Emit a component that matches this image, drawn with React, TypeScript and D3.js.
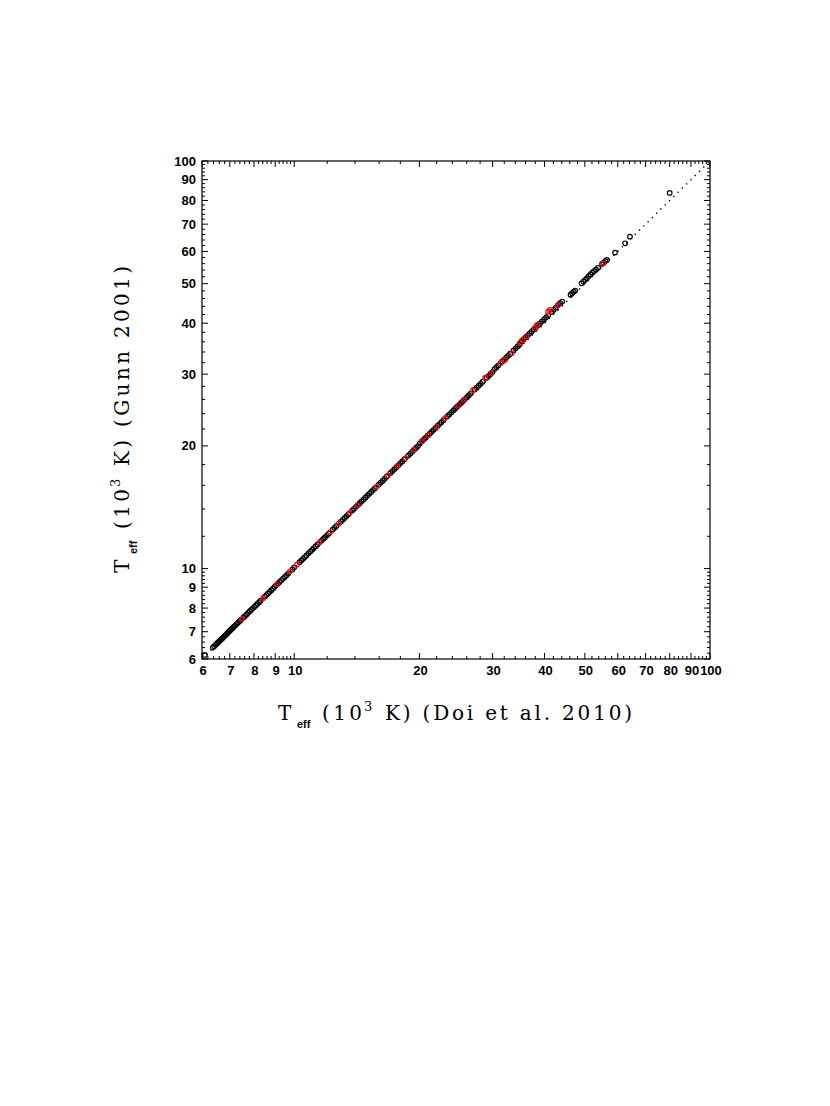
import React from "react";
import * as d3 from "d3";

// Teff (10^3 K) — Doi et al. 2010 (x) vs Gunn 2001 (y)
const doiBlack = [
  6.10, 6.37, 6.42, 6.47, 6.52, 6.57, 6.61, 6.66, 6.71, 6.75, 6.80, 6.85, 6.90, 6.95, 7.00,
  7.05, 7.10, 7.16, 7.21, 7.27, 7.33, 7.39, 7.44, 7.56, 7.62, 7.68, 7.75, 7.82, 7.88, 7.95,
  8.02, 8.09, 8.16, 8.23, 8.30, 8.50, 8.57, 8.65, 8.73, 8.81, 8.89, 8.97, 9.05, 9.14, 9.22,
  9.31, 9.40, 9.49, 9.58, 9.67, 9.90, 10.00, 10.30, 10.40, 10.50, 10.60, 10.70, 10.82, 10.93,
  11.04, 11.15, 11.27, 11.38, 11.62, 11.74, 11.86, 11.99, 12.11, 12.37, 12.50, 12.63, 12.95,
  13.08, 13.22, 13.36, 13.50, 13.78, 13.92, 14.07, 14.22, 14.37, 14.52, 14.67, 14.83, 14.99,
  15.15, 15.31, 15.47, 15.64, 15.98, 16.15, 16.32, 16.50, 16.68, 17.04, 17.23, 17.42, 17.61,
  17.80, 17.99, 18.19, 18.39, 18.80, 19.00, 19.21, 19.42, 19.63, 19.84, 20.06, 20.28, 20.50,
  20.72, 20.95, 21.18, 21.41, 21.64, 21.88, 22.12, 22.36, 22.60, 22.85, 23.35, 23.60, 23.86,
  24.12, 24.38, 24.65, 24.92, 25.19, 25.47, 25.75, 26.03, 26.31, 26.60, 27.19, 27.48, 27.78,
  28.09, 28.40, 29.03, 29.35, 29.67, 29.99, 30.32, 30.65, 30.98, 31.65, 32.00, 32.35, 32.70,
  33.06, 33.70, 34.10, 34.50, 34.85, 35.25, 35.65, 36.05, 36.45, 36.85, 37.25, 37.65, 38.10,
  38.55, 39.00, 39.45, 39.90, 40.35, 40.80, 41.60, 42.10, 42.60, 43.10, 43.60, 44.10, 46.20,
  46.60, 47.00, 47.40, 49.10, 49.60, 50.10, 50.60, 51.10, 51.60, 52.10, 52.60, 53.20, 53.80,
  55.00, 55.50, 56.00, 56.50, 59.10, 62.50, 64.20, 80.00,
];
const gunnBlack = [
  6.14, 6.40, 6.45, 6.50, 6.55, 6.60, 6.64, 6.69, 6.74, 6.78, 6.83, 6.88, 6.93, 6.99, 7.04,
  7.09, 7.14, 7.20, 7.25, 7.31, 7.37, 7.43, 7.48, 7.60, 7.66, 7.72, 7.79, 7.86, 7.92, 7.99,
  8.06, 8.13, 8.20, 8.27, 8.34, 8.54, 8.61, 8.69, 8.77, 8.85, 8.93, 9.02, 9.10, 9.19, 9.27,
  9.36, 9.45, 9.54, 9.63, 9.72, 9.95, 10.07, 10.37, 10.47, 10.57, 10.67, 10.77, 10.90, 11.01,
  11.12, 11.23, 11.35, 11.46, 11.70, 11.82, 11.94, 12.07, 12.19, 12.46, 12.59, 12.72, 13.04,
  13.17, 13.31, 13.45, 13.59, 13.88, 14.02, 14.17, 14.32, 14.47, 14.62, 14.77, 14.93, 15.09,
  15.26, 15.42, 15.58, 15.75, 16.09, 16.26, 16.43, 16.62, 16.80, 17.16, 17.35, 17.54, 17.73,
  17.92, 18.12, 18.32, 18.52, 18.93, 19.13, 19.34, 19.56, 19.77, 19.98, 20.30, 20.52, 20.75,
  20.97, 21.20, 21.43, 21.67, 21.90, 22.14, 22.39, 22.63, 22.87, 23.12, 23.63, 23.88, 24.15,
  24.41, 24.67, 24.95, 25.22, 25.49, 25.78, 26.06, 26.34, 26.63, 26.92, 27.52, 27.81, 28.11,
  28.43, 28.74, 29.38, 29.70, 30.03, 30.35, 30.87, 31.20, 31.54, 32.22, 32.58, 32.93, 33.29,
  33.66, 34.31, 34.71, 35.12, 35.48, 36.13, 36.54, 36.95, 37.36, 37.77, 38.18, 38.59, 39.05,
  39.51, 39.98, 40.44, 40.90, 41.36, 41.82, 42.64, 43.15, 43.67, 44.30, 44.80, 45.20, 47.00,
  47.40, 47.80, 48.10, 50.10, 50.60, 51.10, 51.60, 52.20, 52.70, 53.20, 53.70, 54.20, 54.70,
  55.90, 56.30, 56.80, 57.20, 59.60, 62.80, 65.20, 83.50,
];
const doiRed = [
  7.48, 8.41, 9.09, 9.77, 10.15, 11.50, 12.20, 12.80, 13.60, 14.20, 15.80, 16.80, 17.70,
  18.50, 19.40, 20.30, 21.00, 22.00, 23.05, 24.80, 25.60, 26.90, 28.80, 29.80, 31.30, 32.10,
  33.40, 34.90, 35.50, 36.20, 37.90, 38.40, 40.80, 41.20, 43.10, 55.40,
];
const gunnRed = [
  7.52, 8.46, 9.15, 9.85, 10.22, 11.58, 12.29, 12.90, 13.70, 14.30, 15.92, 16.93, 17.84,
  18.65, 19.56, 20.55, 21.25, 22.28, 23.40, 25.12, 25.94, 27.40, 29.40, 30.20, 31.90, 32.50,
  33.80, 35.80, 36.40, 37.10, 38.90, 39.60, 42.70, 43.10, 44.30, 56.10,
];

const majorTicks = [6, 7, 8, 9, 10, 20, 30, 40, 50, 60, 70, 80, 90, 100];
const tickLabels = ["6", "7", "8", "9", "10", "20", "30", "40", "50", "60", "70", "80", "90", "100"];
const minorTicks = [
  6.2, 6.4, 6.6, 6.8, 7.2, 7.4, 7.6, 7.8, 8.2, 8.4, 8.6, 8.8, 9.2, 9.4, 9.6, 9.8,
  12, 14, 16, 18, 22, 24, 26, 28, 32, 34, 36, 38, 42, 44, 46, 48, 52, 54, 56, 58,
  62, 64, 66, 68, 72, 74, 76, 78, 82, 84, 86, 88, 92, 94, 96, 98,
];
const diagonal = [6, 100];

const L = 202, R = 710, T = 161, B = 659;
const MAJ = 6, MIN = 3;

export default function App() {
  const x = d3.scaleLog().domain([6, 100]).range([L, R]);
  const y = d3.scaleLog().domain([6, 100]).range([B, T]);
  const line = d3
    .line<number>()
    .x((d) => x(d))
    .y((d) => y(d));

  const blackPts = doiBlack.map((d, i) => [d, gunnBlack[i]]);
  const redPts = doiRed.map((d, i) => [d, gunnRed[i]]);

  const labelFont = "'Liberation Sans', Arial, sans-serif";
  const serif = "'DejaVu Serif', serif";

  return (
    <svg
      width={830}
      height={1106}
      style={{ position: "absolute", left: 0, top: 0, background: "#fff" }}
    >
      <rect x={0} y={0} width={830} height={1106} fill="#fff" />
      {/* diagonal dotted line */}
      <path
        d={line(diagonal) || ""}
        fill="none"
        stroke="#000"
        strokeWidth={1.4}
        strokeDasharray="1.4 4.6"
      />
      {/* points */}
      <g fill="none" strokeWidth={1.15}>
        {blackPts.map((p, i) => (
          <circle key={"b" + i} cx={x(p[0])} cy={y(p[1])} r={2.3} stroke="#000" />
        ))}
        {redPts.map((p, i) => (
          <circle key={"r" + i} cx={x(p[0])} cy={y(p[1])} r={2.3} stroke="#ff0000" />
        ))}
      </g>
      {/* frame */}
      <rect x={L} y={T} width={R - L} height={B - T} fill="none" stroke="#000" strokeWidth={1.2} />
      {/* ticks */}
      <g stroke="#000" strokeWidth={1}>
        {majorTicks.map((t) => (
          <g key={"M" + t}>
            <line x1={x(t)} x2={x(t)} y1={B} y2={B - MAJ} />
            <line x1={x(t)} x2={x(t)} y1={T} y2={T + MAJ} />
            <line x1={L} x2={L + MAJ} y1={y(t)} y2={y(t)} />
            <line x1={R} x2={R - MAJ} y1={y(t)} y2={y(t)} />
          </g>
        ))}
        {minorTicks.map((t) => (
          <g key={"m" + t}>
            <line x1={x(t)} x2={x(t)} y1={B} y2={B - MIN} />
            <line x1={x(t)} x2={x(t)} y1={T} y2={T + MIN} />
            <line x1={L} x2={L + MIN} y1={y(t)} y2={y(t)} />
            <line x1={R} x2={R - MIN} y1={y(t)} y2={y(t)} />
          </g>
        ))}
      </g>
      {/* tick labels */}
      <g fontFamily={labelFont} fontSize={13} fontWeight="bold" fill="#000">
        {majorTicks.map((t, i) => (
          <text key={"xl" + t} x={x(t) + 1} y={675} textAnchor="middle">
            {tickLabels[i]}
          </text>
        ))}
        {majorTicks.map((t, i) => (
          <text key={"yl" + t} x={196} y={y(t) + 4.5} textAnchor="end">
            {tickLabels[i]}
          </text>
        ))}
      </g>
      {/* x title */}
      <g fill="#000">
        <text x={278} y={720} fontFamily={serif} fontSize={20}>T</text>
        <text x={297} y={728} fontFamily={labelFont} fontSize={11} fontWeight="bold">eff</text>
        <text x={322} y={720} fontFamily={serif} fontSize={20} textLength={40} lengthAdjust="spacing">(10</text>
        <text x={364} y={711} fontFamily={serif} fontSize={13}>3</text>
        <text x={385} y={720} fontFamily={serif} fontSize={20} textLength={247} lengthAdjust="spacing">
          K) (Doi et al. 2010)
        </text>
      </g>
      {/* y title */}
      <g fill="#000" transform="translate(129,573) rotate(-90)">
        <text x={0} y={0} fontFamily={serif} fontSize={20}>T</text>
        <text x={19} y={8} fontFamily={labelFont} fontSize={11} fontWeight="bold">eff</text>
        <text x={44} y={0} fontFamily={serif} fontSize={20} textLength={40} lengthAdjust="spacing">(10</text>
        <text x={86} y={-9} fontFamily={serif} fontSize={13}>3</text>
        <text x={107} y={0} fontFamily={serif} fontSize={20} textLength={200} lengthAdjust="spacing">
          K) (Gunn 2001)
        </text>
      </g>
    </svg>
  );
}
